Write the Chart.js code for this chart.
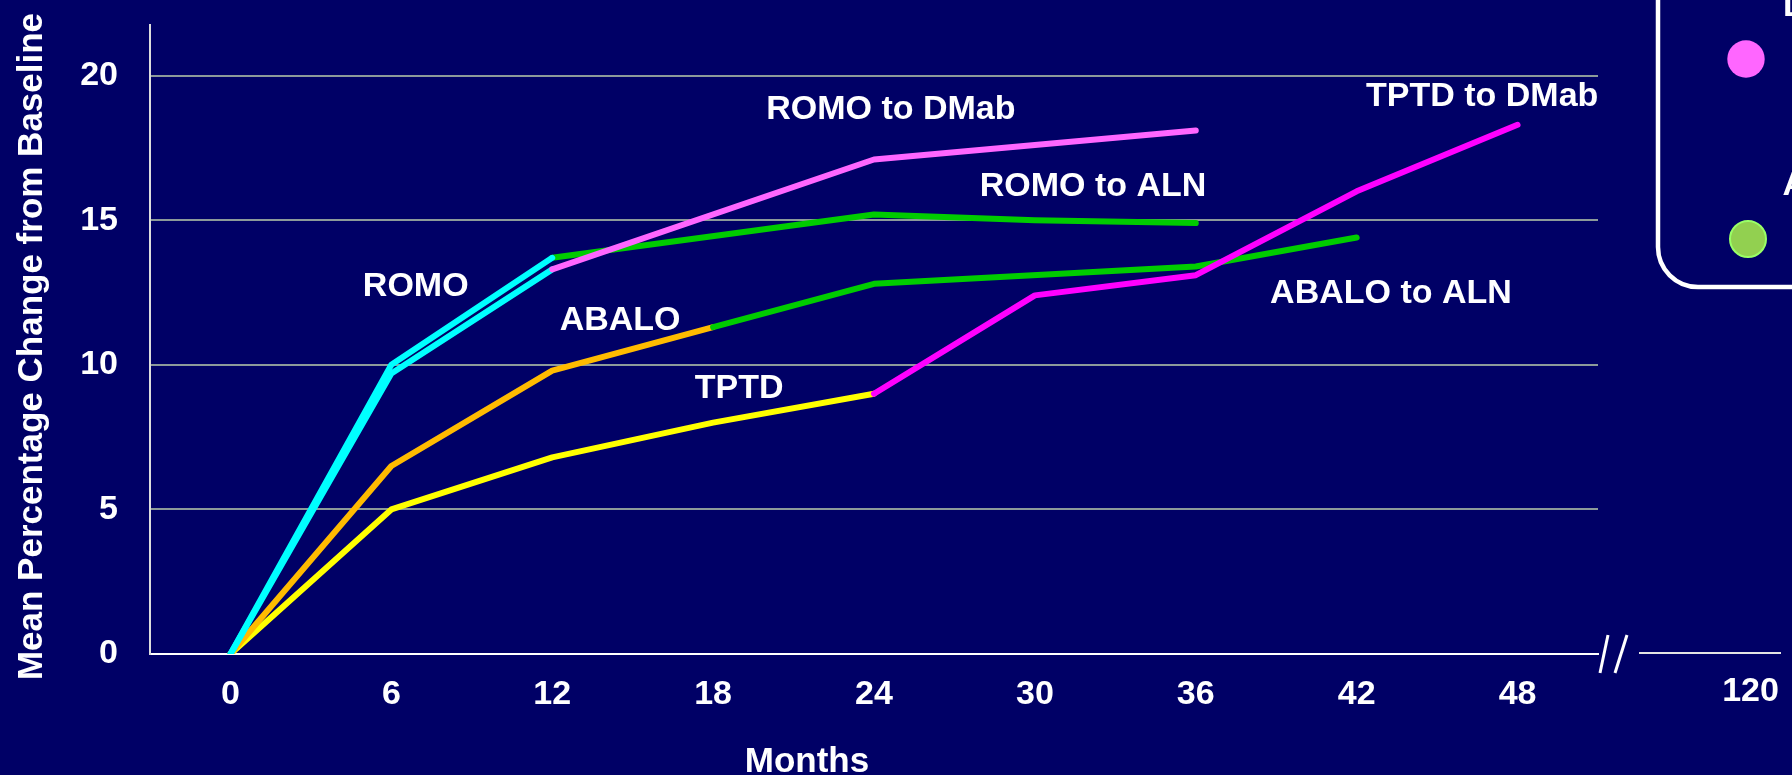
<!DOCTYPE html>
<html><head><meta charset="utf-8">
<script src="https://cdn.jsdelivr.net/npm/chart.js@4.4.0/dist/chart.umd.min.js"></script>
<style>html,body{margin:0;padding:0;background:#000066;overflow:hidden}</style>
</head><body>
<canvas id="c" width="1792" height="775"></canvas>
<script>
// ---- tick labels ----
const xTickValues = [0, 6, 12, 18, 24, 30, 36, 42, 48];
const xBreakTickLabel = '120';
const yTickValues = [0, 5, 10, 15, 20];

// ---- series (months / mean % change) ----
const romoA_months = [0, 6, 12];
const romoA_values = [0, 10.0, 13.7];
const romoB_months = [0, 6, 12];
const romoB_values = [0, 9.7, 13.3];
const romoToAln_months = [12, 24, 30, 36];
const romoToAln_values = [13.7, 15.2, 15.0, 14.9];
const romoToDmab_months = [12, 24, 36];
const romoToDmab_values = [13.3, 17.1, 18.1];
const abalo_months = [0, 6, 12, 18];
const abalo_values = [0, 6.5, 9.8, 11.3];
const abaloToAln_months = [18, 24, 36, 42];
const abaloToAln_values = [11.3, 12.8, 13.4, 14.4];
const tptd_months = [0, 6, 12, 18, 24];
const tptd_values = [0, 5.0, 6.8, 8.0, 9.0];
const tptdToDmab_months = [24, 30, 36, 42, 48];
const tptdToDmab_values = [9.0, 12.4, 13.1, 16.0, 18.3];

const legendLabels = ['DMab', 'ALN'];
const xTitle = 'Months';
const yTitle = 'Mean Percentage Change from Baseline';

// ---- in-chart labels, anchored in data units (month, value) ----
const annotations = [
  {text: 'ROMO',          month: 6.91,  value: 12.71},
  {text: 'ABALO',         month: 14.53, value: 11.53},
  {text: 'TPTD',          month: 18.97, value: 9.19},
  {text: 'ROMO to DMab',  month: 24.63, value: 18.81},
  {text: 'ROMO to ALN',   month: 32.17, value: 16.17},
  {text: 'TPTD to DMab',  month: 46.68, value: 19.29},
  {text: 'ABALO to ALN',  month: 43.28, value: 12.47}
];

const FONT = '"Liberation Sans", Arial, Helvetica, sans-serif';
const BG = '#000066';
Chart.defaults.font.family = FONT;

const pts = (m, v) => m.map((mm, i) => ({x: mm, y: v[i]}));
const ds = (label, m, v, color) => ({label, data: pts(m, v), borderColor: color, backgroundColor: color});

const overlay = {
  id: 'overlay',
  beforeDraw(chart) {
    const ctx = chart.ctx;
    ctx.save(); ctx.fillStyle = BG; ctx.fillRect(0, 0, chart.width, chart.height); ctx.restore();
  },
  afterDraw(chart) {
    const {ctx, chartArea: a, scales: {x, y}} = chart;
    ctx.save();
    // series labels
    ctx.fillStyle = '#ffffff';
    ctx.font = 'bold 34px ' + FONT;
    ctx.textAlign = 'center';
    ctx.textBaseline = 'middle';
    annotations.forEach(t => ctx.fillText(t.text, x.getPixelForValue(t.month), y.getPixelForValue(t.value)));
    // axis titles
    ctx.font = 'bold 35px ' + FONT;
    ctx.textBaseline = 'alphabetic';
    ctx.fillText(xTitle, x.getPixelForValue(21.5), a.bottom + 118);
    ctx.save();
    ctx.translate(32.5, (a.top + a.bottom) / 2 + 7);
    ctx.rotate(-Math.PI / 2);
    ctx.textBaseline = 'middle';
    ctx.fillText(yTitle, 0, 0);
    ctx.restore();
    // axis break and extension to 120
    const yb = y.getPixelForValue(0);
    const line = (x1, y1, x2, y2) => { ctx.beginPath(); ctx.moveTo(x1, y1); ctx.lineTo(x2, y2); ctx.stroke(); };
    ctx.strokeStyle = '#ffffff'; ctx.lineWidth = 3;
    line(a.right + 2, yb + 19, a.right + 10, yb - 19);
    line(a.right + 17, yb + 19, a.right + 29, yb - 19);
    ctx.strokeStyle = '#e4e4e4'; ctx.lineWidth = 2;
    line(a.right + 41, yb - 1, a.right + 183, yb - 1);
    ctx.font = 'bold 34px ' + FONT;
    ctx.textAlign = 'center';
    ctx.textBaseline = 'middle';
    ctx.fillText(xBreakTickLabel, a.right + 152.5, yb + 38);
    // legend box (partly outside the picture)
    const L = 1658, B = 287, T = -60, R = 1900, r = 40;
    ctx.beginPath();
    ctx.moveTo(L, T);
    ctx.lineTo(L, B - r);
    ctx.arcTo(L, B, L + r, B, r);
    ctx.lineTo(R, B);
    ctx.strokeStyle = '#ffffff'; ctx.lineWidth = 4.5;
    ctx.stroke();
    ctx.beginPath(); ctx.arc(1746, 59, 18.7, 0, Math.PI * 2);
    ctx.fillStyle = '#ff66ff'; ctx.fill();
    ctx.beginPath(); ctx.arc(1748, 239, 18, 0, Math.PI * 2);
    ctx.fillStyle = '#92d050'; ctx.fill();
    ctx.strokeStyle = '#99ff66'; ctx.lineWidth = 2; ctx.stroke();
    ctx.fillStyle = '#ffffff';
    ctx.font = 'bold 34px ' + FONT;
    ctx.textAlign = 'left'; ctx.textBaseline = 'alphabetic';
    ctx.fillText(legendLabels[0], 1783, 16);
    ctx.fillText(legendLabels[1], 1782.5, 195);
    ctx.restore();
  }
};

new Chart(document.getElementById('c'), {
  type: 'line',
  data: {
    datasets: [
      ds('TPTD to DMab', tptdToDmab_months, tptdToDmab_values, '#ff00ff'),
      ds('ROMO to DMab', romoToDmab_months, romoToDmab_values, '#ff66ff'),
      ds('ROMO', romoA_months, romoA_values, '#00ffff'),
      ds('ROMO ', romoB_months, romoB_values, '#00ffff'),
      ds('ROMO to ALN', romoToAln_months, romoToAln_values, '#00cc00'),
      ds('ABALO to ALN', abaloToAln_months, abaloToAln_values, '#00cc00'),
      ds('ABALO', abalo_months, abalo_values, '#ffbb00'),
      ds('TPTD', tptd_months, tptd_values, '#ffff00')
    ]
  },
  options: {
    responsive: false,
    animation: false,
    layout: {padding: {top: 25, right: 194, left: 0, bottom: 0}},
    plugins: {legend: {display: false}, tooltip: {enabled: false}},
    elements: {
      point: {radius: 0, hoverRadius: 0},
      line: {tension: 0, borderWidth: 6, borderCapStyle: 'round', borderJoinStyle: 'round', fill: false}
    },
    scales: {
      x: {
        type: 'linear', min: -3, max: 51,
        afterBuildTicks: s => { s.ticks = xTickValues.map(v => ({value: v})); },
        afterFit: s => { s.height = 121; s.paddingLeft = 0; s.paddingRight = 0; },
        grid: {display: false, drawTicks: false},
        border: {display: true, color: '#ffffff', width: 2},
        ticks: {color: '#ffffff', font: {size: 34, weight: 'bold', lineHeight: 1}, padding: 24, autoSkip: false, maxRotation: 0}
      },
      y: {
        type: 'linear', min: 0, max: 21.75,
        afterBuildTicks: s => { s.ticks = yTickValues.map(v => ({value: v})); },
        afterFit: s => { s.width = 150; s.paddingTop = 0; s.paddingBottom = 0; },
        grid: {color: c => (c.tick && c.tick.value === 0) ? '#ffffff' : '#8c9a9a', lineWidth: 2, drawTicks: false},
        border: {display: true, color: '#dddddd', width: 2},
        ticks: {color: '#ffffff', font: {size: 34, weight: 'bold', lineHeight: 1}, padding: 32}
      }
    }
  },
  plugins: [overlay]
});
</script>
</body></html>
